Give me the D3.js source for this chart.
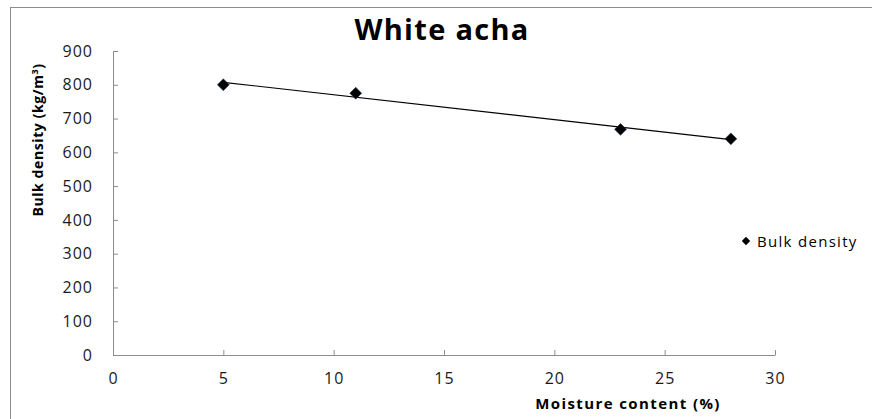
<!DOCTYPE html>
<meta charset="utf-8">
<script src="https://cdnjs.cloudflare.com/ajax/libs/d3/7.8.5/d3.min.js"></script>
<style>
body { margin: 0; background: #fff; }
svg { display: block; font-family: "Open Sans", sans-serif; }
.axis path, .axis line { stroke: #8c8c8c; }
.axis text { font-family: "Open Sans", sans-serif; font-size: 16px; letter-spacing: 1px; fill: #1a1a1a; }
</style>
<svg id="chart" width="872" height="419"></svg>
<script>
// data
var moisture = [5, 11, 23, 28];
var bulkDensity = [800, 775, 668, 640];
var xTicks = [0, 5, 10, 15, 20, 25, 30];
var yTicks = [0, 100, 200, 300, 400, 500, 600, 700, 800, 900];
var seriesName = "Bulk density";

var svg = d3.select('#chart');

// chart frame (right/bottom edges are cut off in the original)
svg.append('rect')
    .attr('x', 10.5).attr('y', 7.5)
    .attr('width', 900).attr('height', 450)
    .attr('fill', 'none').attr('stroke', '#8c8c8c');

var x = d3.scaleLinear().domain([0, 30]).range([113, 775]);
var y = d3.scaleLinear().domain([0, 900]).range([355, 51]);

var gx = svg.append('g')
    .attr('class', 'axis')
    .attr('transform', 'translate(0,355)')
    .call(d3.axisBottom(x).tickValues(xTicks).tickSizeInner(-5).tickSizeOuter(0).tickPadding(18));
gx.selectAll('text').attr('dy', '0.71em');

var gy = svg.append('g')
    .attr('class', 'axis')
    .attr('transform', 'translate(113,0)')
    .call(d3.axisLeft(y).tickValues(yTicks).tickSizeInner(-5).tickSizeOuter(0).tickPadding(20));

// linear trend
var n = moisture.length;
var mx = d3.mean(moisture), my = d3.mean(bulkDensity);
var sxy = 0, sxx = 0;
for (var i = 0; i < n; i++) {
  sxy += (moisture[i] - mx) * (bulkDensity[i] - my);
  sxx += (moisture[i] - mx) * (moisture[i] - mx);
}
var slope = sxy / sxx, icept = my - slope * mx;
var xr = d3.extent(moisture);
svg.append('line')
    .attr('x1', x(xr[0])).attr('y1', y(icept + slope * xr[0]))
    .attr('x2', x(xr[1])).attr('y2', y(icept + slope * xr[1]))
    .attr('stroke', '#000').attr('stroke-width', 1.2);

var diamond = d3.symbol().type(d3.symbolDiamond2);

svg.selectAll('.pt')
    .data(moisture)
    .enter().append('path')
    .attr('class', 'pt')
    .attr('d', diamond.size(90)())
    .attr('transform', function(d, i) { return 'translate(' + x(d) + ',' + y(bulkDensity[i]) + ')'; })
    .attr('fill', '#000')
    .attr('stroke', '#1f3a5f').attr('stroke-width', 0.6);

// title
svg.append('text')
    .attr('x', 442).attr('y', 40)
    .attr('text-anchor', 'middle')
    .style('font-size', '29px').style('font-weight', 'bold').style('letter-spacing', '1.3px')
    .text('White acha');

// axis titles
svg.append('text')
    .attr('transform', 'translate(43,140) rotate(-90)')
    .attr('text-anchor', 'middle')
    .style('font-size', '14px').style('font-weight', 'bold').style('letter-spacing', '0.6px')
    .html('Bulk density (kg/m<tspan dy="-5" font-size="9px">3</tspan><tspan dy="5">)</tspan>');

svg.append('text')
    .attr('x', 628).attr('y', 409)
    .attr('text-anchor', 'middle')
    .style('font-size', '15px').style('font-weight', 'bold').style('letter-spacing', '1.4px')
    .text('Moisture content (%)');

// legend
svg.append('path')
    .attr('d', diamond.size(45)())
    .attr('transform', 'translate(746,241)')
    .attr('fill', '#000');
svg.append('text')
    .attr('x', 757).attr('y', 247)
    .style('font-size', '15px').style('letter-spacing', '1.3px')
    .text(seriesName);
</script>
